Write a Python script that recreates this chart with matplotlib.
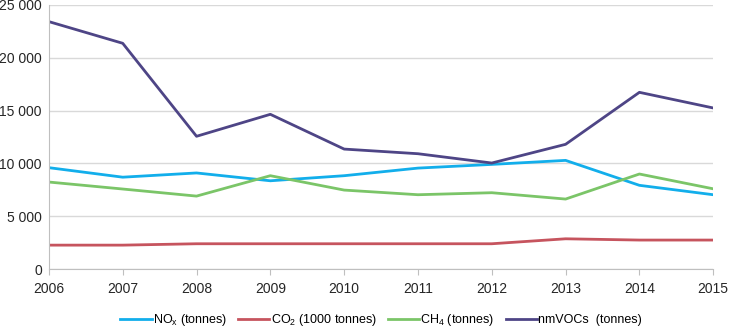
import matplotlib.pyplot as plt
from matplotlib.ticker import FuncFormatter

plt.rcParams['font.family'] = ['Liberation Sans', 'DejaVu Sans']

years = [2006, 2007, 2008, 2009, 2010, 2011, 2012, 2013, 2014, 2015]
nox = [9600, 8700, 9100, 8360, 8840, 9560, 9910, 10290, 7930, 7040]
co2 = [2270, 2270, 2400, 2400, 2400, 2400, 2400, 2870, 2750, 2750]
ch4 = [8240, 7580, 6910, 8840, 7480, 7040, 7230, 6630, 9000, 7600]
nmvoc = [23420, 21370, 12570, 14650, 11360, 10920, 10040, 11810, 16730, 15250]

labels = [r'NO$_\mathregular{x}$ (tonnes)', r'CO$_\mathregular{2}$ (1000 tonnes)',
          r'CH$_\mathregular{4}$ (tonnes)', 'nmVOCs  (tonnes)']
colors = ['#12AEEB', '#C6545E', '#7BC568', '#4E4586']

fig = plt.figure(figsize=(7.3, 3.29), dpi=100)
ax = fig.add_axes([0.067, 0.182, 0.910, 0.803])

for vals, lab, c in zip([nox, co2, ch4, nmvoc], labels, colors):
    ax.plot(years, vals, color=c, lw=2, label=lab)

ax.set_xlim(2006, 2015)
ax.set_ylim(0, 25000)
ax.set_xticks(years)
ax.set_yticks(range(0, 25001, 5000))
ax.yaxis.set_major_formatter(FuncFormatter(lambda v, p: '{:,.0f}'.format(v).replace(',', ' ')))
ax.grid(axis='y', color='#D9D9D9', lw=1)
ax.set_axisbelow(True)
for s in ['top', 'right']:
    ax.spines[s].set_visible(False)
ax.spines['left'].set_color('#BFBFBF')
ax.spines['bottom'].set_color('#BFBFBF')
ax.tick_params(axis='y', length=0, labelsize=10, colors='#262626', pad=5)
ax.tick_params(axis='x', length=4, color='#BFBFBF', labelsize=10, labelcolor='#262626', pad=5)

ax.legend(loc='lower center', bbox_to_anchor=(0.5, -0.265), ncol=4, frameon=False,
          fontsize=9, handlelength=2.5, handletextpad=0.1, columnspacing=0.9)

fig.savefig('out.png', dpi=100)
